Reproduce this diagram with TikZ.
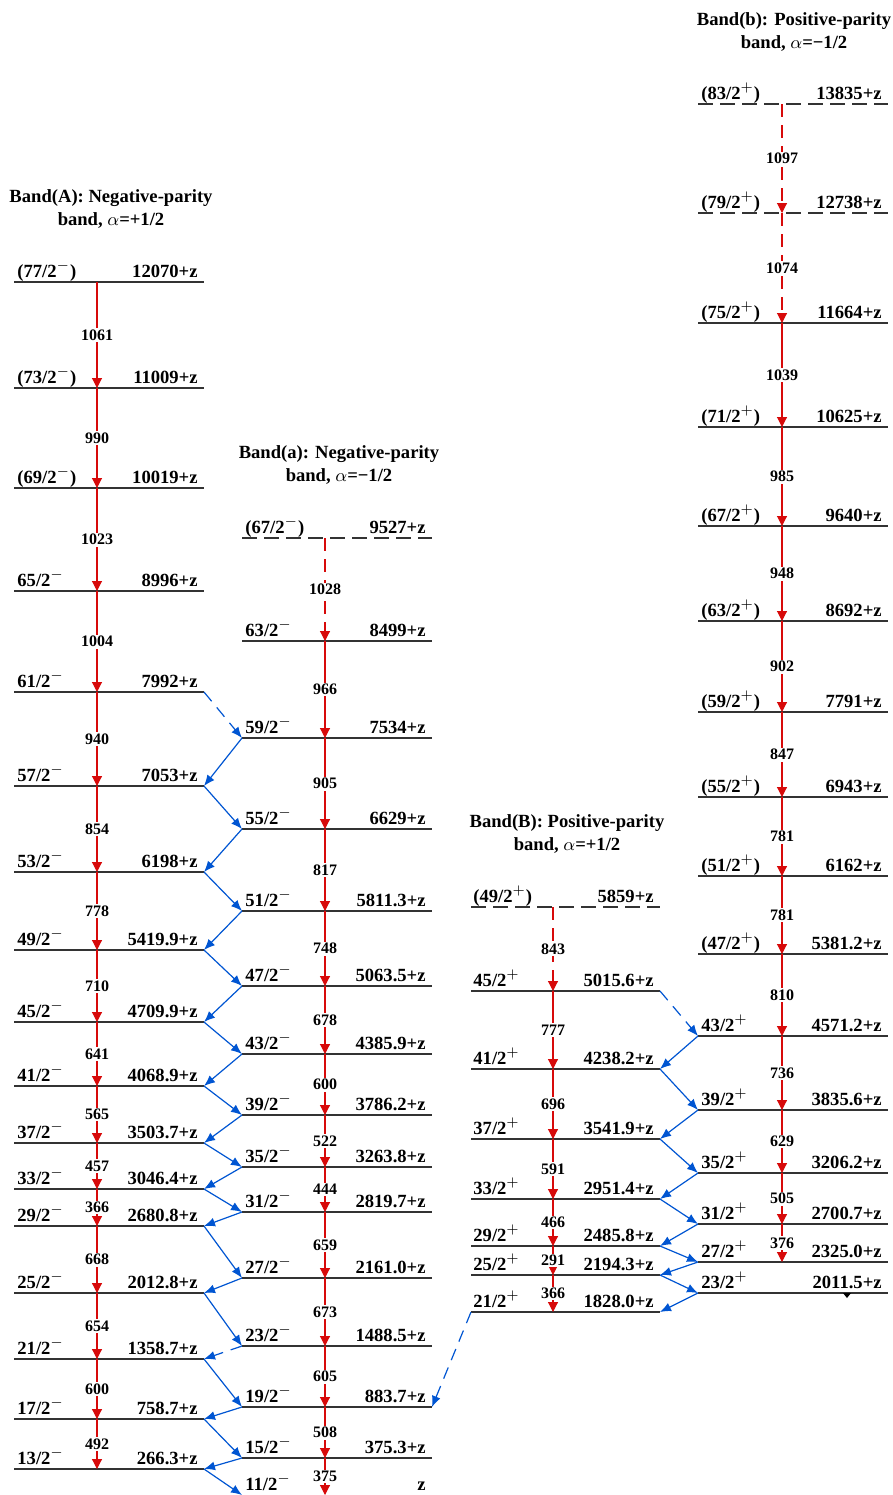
\documentclass[tikz,border=0pt]{standalone}
\usepackage{fontspec}
\setmainfont{Liberation Serif}
\usetikzlibrary{arrows.meta}
\definecolor{gamred}{RGB}{215,10,10}
\definecolor{linkblue}{RGB}{0,85,210}
\tikzset{
  lev/.style={draw=black!80,line width=0.7pt},
  dlev/.style={lev,dash pattern=on 7.5pt off 3.5pt},
  nolev/.style={draw=none},
  gam/.style={draw=gamred,line width=0.55pt,-{Triangle[width=5pt,length=5pt]}},
  dgam/.style={gam,dash pattern=on 6.5pt off 4pt},
  lnk/.style={draw=linkblue,line width=0.6pt,-{Latex[length=5.5pt,width=4.5pt]}},
  dlnk/.style={lnk,dash pattern=on 6pt off 4pt},
  glab/.style={fill=white,inner sep=0.8pt,font=\fontsize{8}{9}\selectfont\bfseries},
  spinlab/.style={anchor=base west,inner sep=0pt,font=\fontsize{9.3}{11}\selectfont\bfseries},
  enlab/.style={anchor=base east,inner sep=0pt,font=\fontsize{9.3}{11}\selectfont\bfseries},
  bandtitle/.style={align=center,font=\fontsize{9.3}{11.3}\selectfont\bfseries}
}

\begin{document}
\begin{tikzpicture}[x=0.5pt,y=-0.5pt]
\useasboundingbox (0,0) rectangle (893,1495);

% band titles
\node[bandtitle] (tA) at (111,209) {Band(A): Negative-parity\\band, $\alpha$=+1/2};
\node[bandtitle] (ta) at (339,465) {Band(a): Negative-parity\\band, $\alpha$=−1/2};
\node[bandtitle] (tB) at (567,834) {Band(B): Positive-parity\\band, $\alpha$=+1/2};
\node[bandtitle] (tb) at (794,32) {Band(b): Positive-parity\\band, $\alpha$=−1/2};

% band A levels
\foreach \n/\y/\s/\e/\st in {77/282/{(77/2$^-$)}/12070+z/lev, 73/388/{(73/2$^-$)}/11009+z/lev,
  69/488/{(69/2$^-$)}/10019+z/lev, 65/591/{65/2$^-$}/8996+z/lev, 61/692/{61/2$^-$}/7992+z/lev,
  57/786/{57/2$^-$}/7053+z/lev, 53/872/{53/2$^-$}/6198+z/lev, 49/950/{49/2$^-$}/5419.9+z/lev,
  45/1022/{45/2$^-$}/4709.9+z/lev, 41/1086/{41/2$^-$}/4068.9+z/lev, 37/1143/{37/2$^-$}/3503.7+z/lev,
  33/1189/{33/2$^-$}/3046.4+z/lev, 29/1226/{29/2$^-$}/2680.8+z/lev, 25/1293/{25/2$^-$}/2012.8+z/lev,
  21/1359/{21/2$^-$}/1358.7+z/lev, 17/1419/{17/2$^-$}/758.7+z/lev, 13/1469/{13/2$^-$}/266.3+z/lev}{
  \draw[\st] (14,\y) coordinate (Al\n) -- (204,\y) coordinate (Ar\n);
  \coordinate (A\n) at (97,\y);
  \node[spinlab] (sA\n) at (17,\y-5) {\s};
  \node[enlab] (eA\n) at (198,\y-5) {\e};
}

% band a levels
\foreach \n/\y/\s/\e/\st in {67/538/{(67/2$^-$)}/9527+z/dlev, 63/641/{63/2$^-$}/8499+z/lev,
  59/738/{59/2$^-$}/7534+z/lev, 55/829/{55/2$^-$}/6629+z/lev, 51/911/{51/2$^-$}/5811.3+z/lev,
  47/986/{47/2$^-$}/5063.5+z/lev, 43/1054/{43/2$^-$}/4385.9+z/lev, 39/1115/{39/2$^-$}/3786.2+z/lev,
  35/1167/{35/2$^-$}/3263.8+z/lev, 31/1212/{31/2$^-$}/2819.7+z/lev, 27/1278/{27/2$^-$}/2161.0+z/lev,
  23/1346/{23/2$^-$}/1488.5+z/lev, 19/1407/{19/2$^-$}/883.7+z/lev, 15/1458/{15/2$^-$}/375.3+z/lev,
  11/1495/{11/2$^-$}/z/nolev}{
  \draw[\st] (242,\y) coordinate (al\n) -- (432,\y) coordinate (ar\n);
  \coordinate (a\n) at (325,\y);
  \node[spinlab] (sa\n) at (245,\y-5) {\s};
  \node[enlab] (ea\n) at (426,\y-5) {\e};
}

% band B levels
\foreach \n/\y/\s/\e/\st in {49/907/{(49/2$^+$)}/5859+z/dlev, 45/991/{45/2$^+$}/5015.6+z/lev,
  41/1069/{41/2$^+$}/4238.2+z/lev, 37/1139/{37/2$^+$}/3541.9+z/lev, 33/1199/{33/2$^+$}/2951.4+z/lev,
  29/1246/{29/2$^+$}/2485.8+z/lev, 25/1275/{25/2$^+$}/2194.3+z/lev, 21/1312/{21/2$^+$}/1828.0+z/lev}{
  \draw[\st] (471,\y) coordinate (Bl\n) -- (660,\y) coordinate (Br\n);
  \coordinate (B\n) at (553,\y);
  \node[spinlab] (sB\n) at (473,\y-5) {\s};
  \node[enlab] (eB\n) at (654,\y-5) {\e};
}

% band b levels
\foreach \n/\y/\s/\e/\st in {83/104/{(83/2$^+$)}/13835+z/dlev, 79/213/{(79/2$^+$)}/12738+z/dlev,
  75/323/{(75/2$^+$)}/11664+z/lev, 71/427/{(71/2$^+$)}/10625+z/lev, 67/526/{(67/2$^+$)}/9640+z/lev,
  63/621/{(63/2$^+$)}/8692+z/lev, 59/712/{(59/2$^+$)}/7791+z/lev, 55/797/{(55/2$^+$)}/6943+z/lev,
  51/876/{(51/2$^+$)}/6162+z/lev, 47/954/{(47/2$^+$)}/5381.2+z/lev, 43/1036/{43/2$^+$}/4571.2+z/lev,
  39/1110/{39/2$^+$}/3835.6+z/lev, 35/1173/{35/2$^+$}/3206.2+z/lev, 31/1224/{31/2$^+$}/2700.7+z/lev,
  27/1262/{27/2$^+$}/2325.0+z/lev, 23/1293/{23/2$^+$}/2011.5+z/lev}{
  \draw[\st] (698,\y) coordinate (bl\n) -- (888,\y) coordinate (br\n);
  \coordinate (b\n) at (782,\y);
  \node[spinlab] (sb\n) at (701,\y-5) {\s};
  \node[enlab] (eb\n) at (882,\y-5) {\e};
}

% in-band transitions
\foreach \u/\l/\g in {77/73/1061, 73/69/990, 69/65/1023, 65/61/1004, 61/57/940, 57/53/854,
  53/49/778, 49/45/710, 45/41/641, 41/37/565, 37/33/457, 33/29/366, 29/25/668, 25/21/654,
  21/17/600, 17/13/492}
  \draw[gam] (A\u) -- (A\l) node[glab,midway] (gA\u) {\g};
\draw[dgam] (a67) -- (a63) node[glab,midway] (ga67) {1028};
\foreach \u/\l/\g in {63/59/966, 59/55/905, 55/51/817, 51/47/748, 47/43/678, 43/39/600,
  39/35/522, 35/31/444, 31/27/659, 27/23/673, 23/19/605, 19/15/508, 15/11/375}
  \draw[gam] (a\u) -- (a\l) node[glab,midway] (ga\u) {\g};
\draw[dgam] (B49) -- (B45) node[glab,midway] (gB49) {843};
\foreach \u/\l/\g in {45/41/777, 41/37/696, 37/33/591, 33/29/466, 29/25/291, 25/21/366}
  \draw[gam] (B\u) -- (B\l) node[glab,midway] (gB\u) {\g};
\draw[dgam] (b83) -- (b79) node[glab,midway] (gb83) {1097};
\draw[dgam] (b79) -- (b75) node[glab,midway] (gb79) {1074};
\foreach \u/\l/\g in {75/71/1039, 71/67/985, 67/63/948, 63/59/902, 59/55/847, 55/51/781,
  51/47/781, 47/43/810, 43/39/736, 39/35/629, 35/31/505, 31/27/376}
  \draw[gam] (b\u) -- (b\l) node[glab,midway] (gb\u) {\g};

% linking transitions
\draw[dlnk] (Ar61) -- (al59);
\foreach \u/\l in {57/55, 53/51, 49/47, 45/43, 41/39, 37/35, 33/31, 29/27, 25/23, 21/19, 17/15, 13/11}
  \draw[lnk] (Ar\u) -- (al\l);
\foreach \u/\l in {59/57, 55/53, 51/49, 47/45, 43/41, 39/37, 35/33, 31/29, 27/25, 19/17, 15/13}
  \draw[lnk] (al\u) -- (Ar\l);
\draw[dlnk] (al23) -- (Ar21);
\draw[dlnk] (Br45) -- (bl43);
\foreach \u/\l in {41/39, 37/35, 33/31, 29/27, 25/23}
  \draw[lnk] (Br\u) -- (bl\l);
\foreach \u/\l in {43/41, 39/37, 35/33, 31/29, 27/25, 23/21}
  \draw[lnk] (bl\u) -- (Br\l);
\draw[dlnk] (Bl21) -- (ar19);

% stray tip under 23/2+
\fill (843,1293) -- (851,1293) -- (847,1298) -- cycle;
\end{tikzpicture}
\end{document}
